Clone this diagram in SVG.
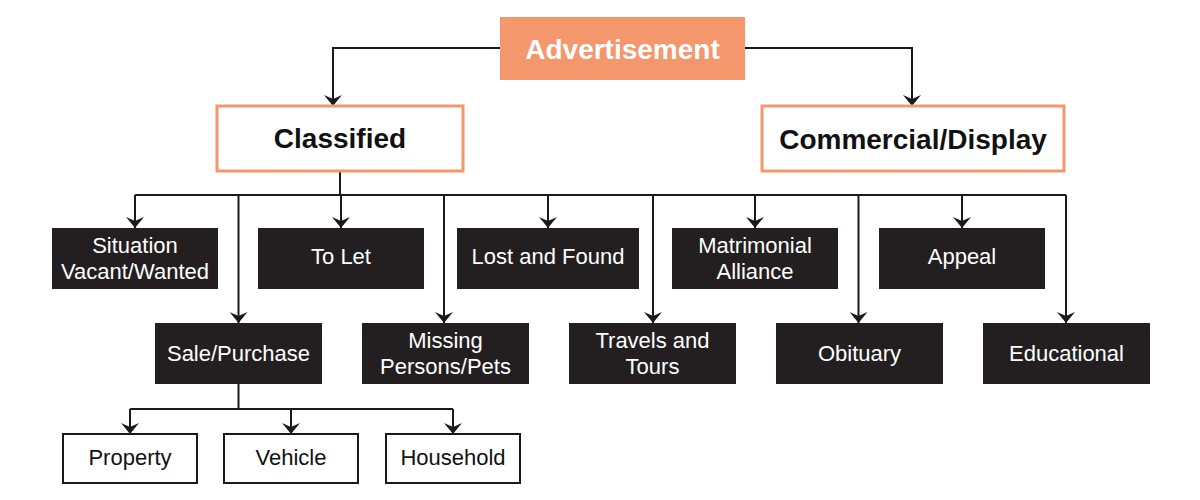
<svg xmlns="http://www.w3.org/2000/svg" width="1200" height="500" viewBox="0 0 1200 500">
<style>
.dark{fill:#231f20}
.dt{fill:#fff;font-family:"Liberation Sans",Arial,sans-serif;font-size:22px;text-anchor:middle}
.wt{fill:#111;font-family:"Liberation Sans",Arial,sans-serif;font-size:22px;text-anchor:middle}
.obox{fill:#fff;stroke:#f4976c;stroke-width:3}
.wbox{fill:#fff;stroke:#1a1a1a;stroke-width:2}
.bt{fill:#111;font-family:"Liberation Sans",Arial,sans-serif;font-size:28px;font-weight:bold;text-anchor:middle}
.conn{fill:none;stroke:#1a1a1a;stroke-width:2}
.arr{marker-end:url(#ah)}
</style>
<defs>
<marker id="ah" viewBox="0 0 11 18" refX="11" refY="9" markerWidth="11" markerHeight="18" markerUnits="userSpaceOnUse" orient="auto">
<path d="M11,9 L0,0 L4,9 L0,18 Z" fill="#1a1a1a"/>
</marker>
</defs>
<rect width="1200" height="500" fill="#fff"/>
<g id="connectors">
<path class="conn arr" d="M500,48 H333 V106"/>
<path class="conn arr" d="M745,48 H912 V106"/>
<path class="conn" d="M340,171 V195"/>
<path class="conn" d="M135,195 H1066"/>
<path class="conn arr" d="M135,195 V228"/>
<path class="conn arr" d="M341,195 V228"/>
<path class="conn arr" d="M548,195 V228"/>
<path class="conn arr" d="M755,195 V228"/>
<path class="conn arr" d="M962,195 V228"/>
<path class="conn arr" d="M238.5,195 V323"/>
<path class="conn arr" d="M444,195 V323"/>
<path class="conn arr" d="M653,195 V323"/>
<path class="conn arr" d="M858.5,195 V323"/>
<path class="conn arr" d="M1066,195 V323"/>
<path class="conn" d="M238.5,384 V409"/>
<path class="conn" d="M130,409 H453"/>
<path class="conn arr" d="M130,409 V434"/>
<path class="conn arr" d="M291,409 V434"/>
<path class="conn arr" d="M453,409 V434"/>
</g>
<g id="advertisement">
<rect x="500" y="17" width="245" height="63" fill="#f4976c"/>
<text x="622.5" y="59" style="fill:#fff;font-family:'Liberation Sans',Arial,sans-serif;font-size:28px;font-weight:bold;text-anchor:middle">Advertisement</text>
</g>
<g id="classified">
<rect class="obox" x="217" y="106" width="246" height="65"/>
<text class="bt" x="340" y="148">Classified</text>
</g>
<g id="commercial">
<rect class="obox" x="762" y="106" width="302" height="65"/>
<text class="bt" x="913" y="149">Commercial/Display</text>
</g>
<g id="situation">
<rect class="dark" x="52" y="228" width="166" height="61"/>
<text class="dt" x="135" y="253">Situation</text>
<text class="dt" x="135" y="279">Vacant/Wanted</text>
</g>
<g id="tolet">
<rect class="dark" x="258" y="228" width="166" height="61"/>
<text class="dt" x="341" y="264">To Let</text>
</g>
<g id="lostfound">
<rect class="dark" x="457" y="228" width="182" height="61"/>
<text class="dt" x="548" y="264">Lost and Found</text>
</g>
<g id="matrimonial">
<rect class="dark" x="672" y="228" width="166" height="61"/>
<text class="dt" x="755" y="253">Matrimonial</text>
<text class="dt" x="755" y="279">Alliance</text>
</g>
<g id="appeal">
<rect class="dark" x="879" y="228" width="166" height="61"/>
<text class="dt" x="962" y="264">Appeal</text>
</g>
<g id="salepurchase">
<rect class="dark" x="155" y="323" width="167" height="61"/>
<text class="dt" x="238.5" y="361">Sale/Purchase</text>
</g>
<g id="missing">
<rect class="dark" x="362" y="323" width="167" height="61"/>
<text class="dt" x="445.5" y="348">Missing</text>
<text class="dt" x="445.5" y="374">Persons/Pets</text>
</g>
<g id="travels">
<rect class="dark" x="569" y="323" width="167" height="61"/>
<text class="dt" x="652.5" y="348">Travels and</text>
<text class="dt" x="652.5" y="374">Tours</text>
</g>
<g id="obituary">
<rect class="dark" x="776" y="323" width="167" height="61"/>
<text class="dt" x="859.5" y="361">Obituary</text>
</g>
<g id="educational">
<rect class="dark" x="983" y="323" width="167" height="61"/>
<text class="dt" x="1066.5" y="361">Educational</text>
</g>
<g id="property">
<rect class="wbox" x="63" y="434" width="134" height="49"/>
<text class="wt" x="130" y="465">Property</text>
</g>
<g id="vehicle">
<rect class="wbox" x="224" y="434" width="134" height="49"/>
<text class="wt" x="291" y="465">Vehicle</text>
</g>
<g id="household">
<rect class="wbox" x="386" y="434" width="134" height="49"/>
<text class="wt" x="453" y="465">Household</text>
</g>
</svg>
